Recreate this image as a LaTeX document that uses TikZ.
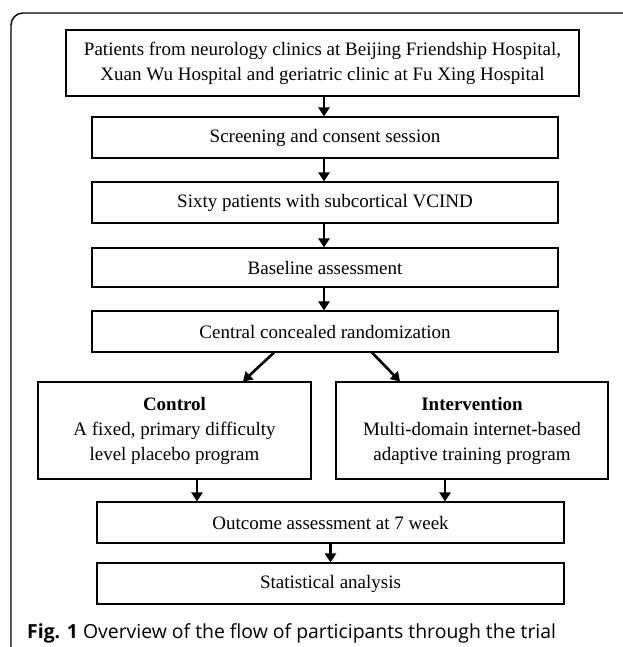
\documentclass[tikz,border=0pt]{standalone}
\usepackage{fontspec}
\setmainfont{Liberation Serif}
\newfontfamily\capfont{Open Sans}
\usetikzlibrary{arrows.meta,calc}
\tikzset{
  box/.style={draw, line width=1.1pt, rectangle, align=center, inner sep=0pt,
    font=\fontsize{19}{25}\selectfont},
  arr/.style={line width=2.6pt, -{Triangle[width=11pt,length=9pt]}},
  frame/.style={line width=1.4pt, rounded corners=12pt}
}
\begin{document}
\begin{tikzpicture}[x=1pt,y=-1pt]
\useasboundingbox (0,0) rectangle (622,647);
\draw[frame] (11,660) -- (11,13) -- (640,13);
\node[box, minimum width=513pt, minimum height=66pt] (b1) at (322.5,63)
  {Patients from neurology clinics at Beijing Friendship Hospital,\\Xuan Wu Hospital and geriatric clinic at Fu Xing Hospital};
\node[box, minimum width=466pt, minimum height=41pt] (b2) at (325,137.5) {Screening and consent session};
\node[box, minimum width=466pt, minimum height=41pt] (b3) at (325,202.5) {Sixty patients with subcortical VCIND};
\node[box, minimum width=466pt, minimum height=39pt] (b4) at (325,267.5) {Baseline assessment};
\node[box, minimum width=466pt, minimum height=41pt] (b5) at (325,331.5) {Central concealed randomization};
\node[box, minimum width=273pt, minimum height=97pt] (ctl) at (174.5,430.5)
  {\textbf{Control}\\A fixed, primary difficulty\\level placebo program};
\node[box, minimum width=272pt, minimum height=97pt] (int) at (472,430.5)
  {\textbf{Intervention}\\Multi-domain internet-based\\adaptive training program};
\node[box, minimum width=467pt, minimum height=41pt] (out) at (330.5,522.5) {Outcome assessment at 7 week};
\node[box, minimum width=467pt, minimum height=41pt] (stat) at (330.5,583.5) {Statistical analysis};
\node[anchor=base west, inner sep=0pt, font=\capfont\fontsize{19.4}{22}\selectfont] (cap) at (27,638)
  {\textbf{Fig. 1} Overview of the flow of participants through the trial};
\draw[arr] ([xshift=1.5pt]b1.south) -- ([xshift=-1pt]b2.north);
\draw[arr] ([xshift=-1pt]b2.south) -- ([xshift=-1pt]b3.north);
\draw[arr] ([xshift=-1pt]b3.south) -- ([xshift=-1pt]b4.north);
\draw[arr] ([xshift=-1pt]b4.south) -- ([xshift=-1pt]b5.north);
\draw[arr] ([xshift=-51pt]b5.south) -- ([xshift=68.5pt]ctl.north);
\draw[arr] ([xshift=47pt]b5.south) -- ([xshift=-72pt]int.north);
\draw[arr] ([xshift=22.5pt]ctl.south) -- ([xshift=22.5pt]ctl.south |- out.north);
\draw[arr] ([xshift=-27pt]int.south) -- ([xshift=-27pt]int.south |- out.north);
\draw[arr] (out.south) -- (stat.north);
\end{tikzpicture}
\end{document}
